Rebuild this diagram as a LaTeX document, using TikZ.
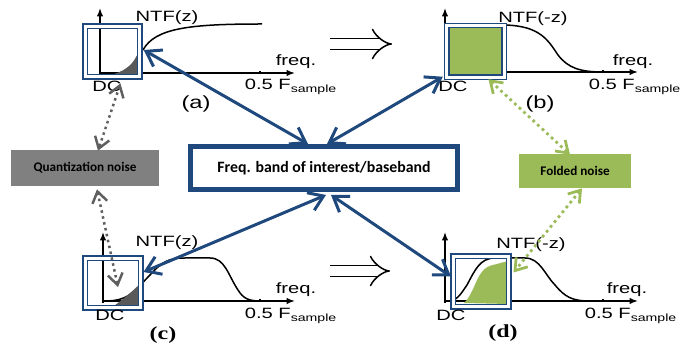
\documentclass[tikz,border=0pt]{standalone}
\usepackage{fontspec}
\newfontfamily\plotfont[FakeStretch=1.35]{Liberation Sans}
\newfontfamily\capfont[FakeStretch=1.3]{Liberation Serif}
\newfontfamily\boxfont{Carlito}
\usepackage{tikz}
\usetikzlibrary{calc}
\usetikzlibrary{shapes,arrows.meta}

\definecolor{bandblue}{RGB}{31,73,125}
\definecolor{noisegray}{RGB}{128,128,128}
\definecolor{shadegray}{RGB}{89,89,89}
\definecolor{arrowgray}{RGB}{95,95,95}
\definecolor{foldgreen}{RGB}{155,187,89}

\tikzset{
  axis/.style={line width=0.03cm,-{Latex[length=0.17cm,width=0.13cm]}},
  ntf/.style={line width=0.03cm},
  band/.style={draw=bandblue,double=white,double distance=0.06cm,line width=0.03cm,inner sep=0pt,minimum width=1.1cm,minimum height=1.01cm},
  lbl/.style={font=\plotfont\fontsize{8.5}{10}\selectfont,inner sep=1pt},
  panel/.style={font=\plotfont\fontsize{10}{12}\selectfont,inner sep=1pt},
  figtag/.style={font=\capfont\bfseries\fontsize{10.5}{12}\selectfont,inner sep=1pt},
  tag/.style={font=\boxfont\bfseries\fontsize{7.5}{9}\selectfont,minimum height=0.72cm,inner sep=2pt},
  link/.style={bandblue,line width=0.06cm,{Straight Barb[length=0.28cm,width=0.38cm]}-{Straight Barb[length=0.28cm,width=0.38cm]}},
  graylink/.style={arrowgray,line width=0.05cm,dotted,{Straight Barb[length=0.22cm,width=0.3cm]}-{Straight Barb[length=0.22cm,width=0.3cm]}},
  greenlink/.style={foldgreen,line width=0.055cm,dotted,{Straight Barb[length=0.22cm,width=0.3cm]}-{Straight Barb[length=0.22cm,width=0.3cm]}},
  thenarrow/.style={double,double distance=0.19cm,line width=0.03cm,-{Implies}}
}

\begin{document}
\begin{tikzpicture}[x=0.02cm,y=-0.02cm]
    \useasboundingbox (0,0) rectangle (694,354);

    % panel (a)
    \draw[axis] (100,75) -- (100,8);
    \draw[axis] (100,73) -- (295,73);
    \draw[ntf] (260,71) -- (260,73);
    \fill[shadegray] (110,75) .. controls (124,72) and (132,65) .. (136,57) -- (142,48) -- (142,77) -- cycle;
    \draw[ntf] (143,50) .. controls (155,28) and (190,24) .. (262,24);
    \node[band] (bandA) at (112.5,51.5) {};
    \node[lbl] (ntfA) at (167,18) {NTF(z)};
    \node[lbl] (freqA) at (296,62) {freq.};
    \node[lbl] (fsA) at (291,87) {0.5 F\textsubscript{sample}};
    \node[lbl] (dcA) at (107,86) {DC};
    \node[panel] (capA) at (196,104) {(a)};

    % panel (b)
    \draw[axis] (445,75) -- (445,8);
    \draw[axis] (445,72) -- (638,72);
    \draw[ntf] (603,70) -- (603,72);
    \draw[ntf] (445,25) -- (505,25) .. controls (540,26) and (548,40) .. (558,55) .. controls (568,68) and (580,72) .. (603,72);
    \node[band,fill=foldgreen,minimum width=1.16cm,minimum height=1.04cm] (bandB) at (475.5,51.5) {};
    \node[lbl] (ntfB) at (533,19) {NTF(-z)};
    \node[lbl] (freqB) at (633,62) {freq.};
    \node[lbl] (fsB) at (635,87) {0.5 F\textsubscript{sample}};
    \node[lbl] (dcB) at (453,86) {DC};
    \node[panel] (capB) at (540,104) {(b)};

    % panel (c)
    \draw[axis] (103,303) -- (103,232);
    \draw[axis] (103,301) -- (295,301);
    \draw[ntf] (260,299) -- (260,301);
    \draw[ntf] (105,301) .. controls (130,301) and (135,290) .. (150,275) .. controls (162,262) and (168,258) .. (185,258) -- (210,258) .. controls (225,258) and (228,275) .. (238,290) .. controls (243,298) and (248,301) .. (260,301);
    \fill[shadegray] (110,309) .. controls (122,300) and (132,292) .. (143,281) -- (143,309) -- cycle;
    \node[band,minimum width=1.11cm,minimum height=1cm] (bandC) at (113,283) {};
    \node[lbl] (ntfC) at (167,243) {NTF(z)};
    \node[lbl] (freqC) at (296,290) {freq.};
    \node[lbl] (fsC) at (291,316) {0.5 F\textsubscript{sample}};
    \node[lbl] (dcC) at (110,315) {DC};
    \node[figtag] (capC) at (163,335) {(c)};

    % panel (d)
    \draw[axis] (445,303) -- (445,232);
    \draw[axis] (445,301) -- (638,301);
    \draw[ntf] (603,299) -- (603,301);
    \fill[foldgreen] (464,303) .. controls (476,292) and (476,268) .. (493,265) -- (508,261) -- (508,304) -- cycle;
    \draw[ntf] (450,301) .. controls (458,300) and (462,292) .. (467,285) .. controls (475,270) and (480,258) .. (495,258) -- (525,258) .. controls (540,258) and (545,275) .. (555,285) .. controls (565,297) and (572,301) .. (590,301);
    \node[band,minimum width=1.11cm,minimum height=1.02cm] (bandD) at (481,281.5) {};
    \node[lbl] (ntfD) at (531,245) {NTF(-z)};
    \node[lbl] (freqD) at (627,290) {freq.};
    \node[lbl] (fsD) at (631,316) {0.5 F\textsubscript{sample}};
    \node[lbl] (dcD) at (451,315) {DC};
    \node[figtag] (capD) at (503,333) {(d)};

    % z -> -z
    \coordinate (thenA) at (330,44);
    \coordinate (thenB) at (392,44);
    \coordinate (thenC) at (330,271);
    \coordinate (thenD) at (390,271);
    \draw[thenarrow] (thenA) -- (thenB);
    \draw[thenarrow] (thenC) -- (thenD);

    % middle row
    \node[tag,fill=noisegray,minimum width=2.96cm] (qnoise) at (85,168) {Quantization noise};
    \node[draw=bandblue,line width=0.1cm,minimum width=5.34cm,minimum height=0.86cm,font=\boxfont\bfseries\fontsize{9}{11}\selectfont] (band) at (324,168) {Freq. band of interest/baseband};
    \node[tag,fill=foldgreen,minimum width=2.24cm,minimum height=0.68cm] (fnoise) at (575,171) {Folded noise};

    \draw[link] ($(bandA.east)+(3,-1.5)$) -- ($(band.north)+(-16,0)$);
    \draw[link] ($(bandB.south west)+(-3,-1.5)$) -- ($(band.north)+(3,0)$);
    \draw[link] ($(bandC.east)+(2,-11)$) -- ($(band.south)+(2,3)$);
    \draw[link] ($(bandD.west)+(-1.5,-5)$) -- ($(band.south)+(7,3)$);

    \draw[graylink] ($(bandA.south)+(8,6)$) -- ($(qnoise.north)+(13,1)$);
    \draw[graylink] ($(qnoise.south)+(12,3)$) -- ($(bandC.center)+(5,4)$);
    \draw[greenlink] ($(bandB.south)+(13,1)$) -- ($(fnoise.north)+(-5,1)$);
    \draw[greenlink] ($(fnoise.south)+(7,0)$) -- ($(bandD.east)+(4,-9)$);
\end{tikzpicture}
\end{document}
